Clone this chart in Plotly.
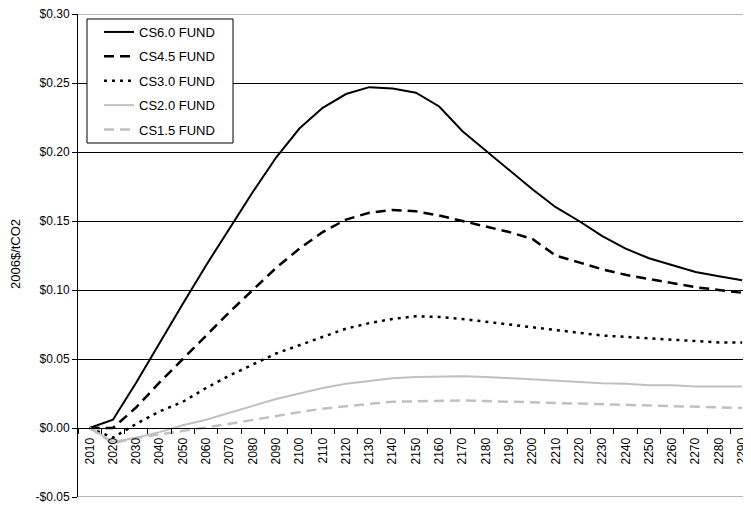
import plotly.graph_objects as go

years = [str(y) for y in range(2010, 2300, 10)]

cs60 = [0.000, 0.006, 0.033, 0.062, 0.090, 0.118, 0.145, 0.171, 0.196, 0.217,
        0.232, 0.242, 0.247, 0.246, 0.243, 0.233, 0.215, 0.201, 0.187, 0.173,
        0.160, 0.150, 0.139, 0.130, 0.123, 0.118, 0.113, 0.110, 0.107]
cs45 = [0.000, 0.000, 0.015, 0.033, 0.050, 0.067, 0.084, 0.100, 0.116, 0.130,
        0.142, 0.151, 0.156, 0.158, 0.157, 0.154, 0.150, 0.146, 0.142, 0.137,
        0.125, 0.120, 0.115, 0.111, 0.108, 0.105, 0.102, 0.100, 0.098]
cs30 = [0.000, -0.007, 0.003, 0.012, 0.019, 0.029, 0.038, 0.046, 0.054, 0.060,
        0.066, 0.072, 0.076, 0.079, 0.081, 0.0805, 0.079, 0.077, 0.075, 0.073,
        0.071, 0.069, 0.067, 0.066, 0.065, 0.064, 0.063, 0.062, 0.062]
cs20 = [0.000, -0.010, -0.007, -0.003, 0.002, 0.006, 0.011, 0.016, 0.021, 0.025,
        0.029, 0.032, 0.034, 0.036, 0.037, 0.0375, 0.0375, 0.037, 0.036, 0.035,
        0.034, 0.033, 0.0325, 0.032, 0.031, 0.031, 0.030, 0.030, 0.030]
cs15 = [0.000, -0.011, -0.0072, -0.0045, -0.002, 0.0005, 0.003, 0.006, 0.0085, 0.0115,
        0.014, 0.016, 0.0175, 0.019, 0.0195, 0.020, 0.020, 0.0195, 0.019, 0.0185,
        0.018, 0.0175, 0.017, 0.0165, 0.016, 0.0158, 0.0152, 0.015, 0.0145]

series_names = ["CS6.0 FUND", "CS4.5 FUND", "CS3.0 FUND", "CS2.0 FUND", "CS1.5 FUND"]
series_vals = [cs60, cs45, cs30, cs20, cs15]
y_tickvals = [-0.05, 0.0, 0.05, 0.10, 0.15, 0.20, 0.25, 0.30]
y_ticktext = ["-$0.05", "$0.00", "$0.05", "$0.10", "$0.15", "$0.20", "$0.25", "$0.30"]

styles = [
    dict(color="#000000", width=2, dash="solid"),
    dict(color="#000000", width=2.5, dash="10px,6px"),
    dict(color="#000000", width=2.5, dash="3px,5px"),
    dict(color="#c0c0c0", width=2, dash="solid"),
    dict(color="#c0c0c0", width=2.5, dash="10px,6px"),
]

FONT = "Liberation Sans, Arial, sans-serif"

fig = go.Figure()
for i, (name, vals) in enumerate(zip(series_names, series_vals)):
    fig.add_trace(go.Scatter(x=years, y=vals, mode="lines", name=name,
                             line=styles[i], legendgroup=f"g{i}"))

# The page places the figure 8px in from the window's top-left corner,
# so the figure is sized and laid out to fill the 751x506 window from there.
OFF = 8
W, H = 751 - OFF, 506 - OFF
L, R, T, B = 78 - OFF, 0, 14 - OFF, 506 - 497
PW, PH = W - L - R, H - T - B


def px_x(wx):
    """window x pixel -> paper fraction"""
    return (wx - OFF - L) / PW


def px_y(wy):
    """window y pixel -> paper fraction"""
    return 1 - (wy - OFF - T) / PH


fig.update_layout(
    width=W, height=H,
    margin=dict(l=L, r=R, t=T, b=B),
    paper_bgcolor="white", plot_bgcolor="white",
    font=dict(family=FONT, size=12, color="#000000"),
    showlegend=True,
    legend=dict(x=px_x(99), y=px_y(17),
                xanchor="left", yanchor="top",
                bgcolor="rgba(0,0,0,0)", borderwidth=0,
                font=dict(family=FONT, size=13, color="#000000"),
                tracegroupgap=4.5, itemwidth=30),
)

fig.update_xaxes(
    type="category", range=[-0.5, 28.38],
    anchor="free", position=0.05 / 0.35,
    showline=True, linecolor="#000000", linewidth=1,
    ticks="outside", tickson="boundaries", ticklen=5, tickcolor="#000000",
    tickangle=-90, tickfont=dict(family=FONT, size=12), ticklabelstandoff=4,
    showgrid=False, zeroline=False, ticklabeloverflow="allow",
)
fig.update_yaxes(
    range=[-0.05, 0.30],
    tickvals=y_tickvals, ticktext=y_ticktext,
    showline=True, linecolor="#000000", linewidth=1,
    ticks="outside", ticklen=5, tickcolor="#000000",
    tickfont=dict(family=FONT, size=12), ticklabeloverflow="allow",
    showgrid=True, gridcolor="#000000", gridwidth=1,
    zeroline=False,
)

# gray plot-area border lines at top and bottom
for yv in (0.30, -0.05):
    fig.add_shape(type="line", xref="paper", yref="y", x0=0, x1=1, y0=yv, y1=yv,
                  line=dict(color="#a0a0a0", width=1.5), layer="above")

# legend frame
fig.add_shape(type="rect", xref="paper", yref="paper",
              x0=px_x(87), x1=px_x(233), y0=px_y(19), y1=px_y(143),
              line=dict(color="#000000", width=1), fillcolor="white", layer="above")

fig.add_annotation(text="2006$/tCO2", xref="paper", yref="paper",
                   x=px_x(15), y=px_y(254), xanchor="center", yanchor="middle",
                   textangle=-90, showarrow=False,
                   font=dict(family=FONT, size=13, color="#000000"))

fig.write_html("out.html")
